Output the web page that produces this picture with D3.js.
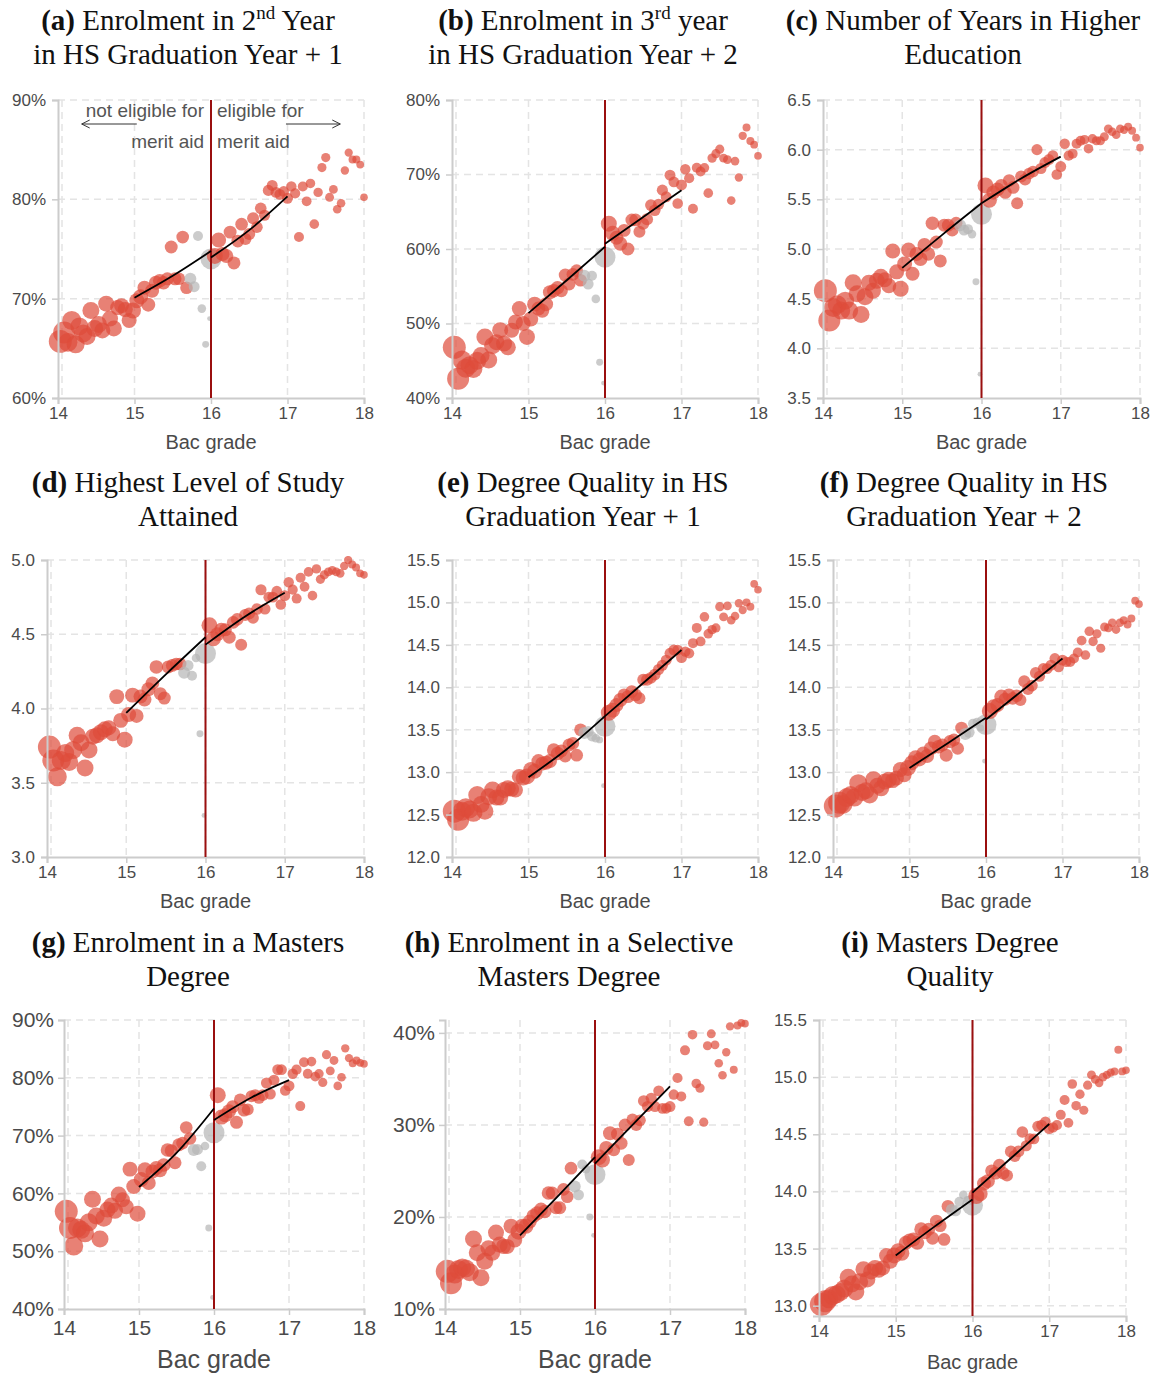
<!DOCTYPE html>
<html><head><meta charset="utf-8">
<script src="https://cdn.jsdelivr.net/npm/d3@7"></script>
<style>body{margin:0;background:#fff} svg{display:block}</style>
</head><body><svg id="c" width="1158" height="1374"></svg>
<script>
// ---------------- DATA ----------------
const grades = [14.03,14.08,14.13,14.18,14.23,14.28,14.33,14.38,14.43,14.48,14.53,14.58,14.63,14.68,14.73,14.78,14.83,14.88,14.93,14.98,15.03,15.08,15.13,15.18,15.23,15.28,15.33,15.38,15.43,15.48,15.53,15.58,15.63,15.68,
  15.73,15.78,15.83,15.88,15.93,15.98,16.00,
  16.05,16.10,16.15,16.20,16.25,16.30,16.35,16.40,16.45,16.50,16.55,16.60,16.65,16.70,16.75,16.80,16.85,16.90,16.95,17.00,17.05,17.10,17.15,17.20,17.25,17.30,17.35,17.40,17.45,17.50,17.55,17.60,17.65,17.70,17.75,17.80,17.85,17.90,17.95,18.00];
const counts = [1320,1210,900,900,810,810,810,720,720,720,720,640,640,640,640,560,560,560,560,640,560,560,490,490,490,490,460,460,420,420,420,400,400,400,
  360,300,250,185,120,55,1100,
  640,560,490,490,420,420,400,400,360,360,360,340,340,310,310,300,300,290,280,300,270,260,250,250,240,230,230,220,210,210,200,195,185,185,175,170,160,160,150,145];
const donutRange = [15.7, 16.0];

const enrol2ndYear = [65.7,66.6,65.6,67.8,65.4,67.2,66.5,66.2,68.8,67.0,67.4,66.8,69.5,68.0,67.0,69.1,69.3,68.9,67.8,68.8,69.8,70.2,71.1,69.4,70.8,71.6,71.8,71.6,72.0,75.2,72.0,72.0,76.2,71.1,
  72.0,71.2,76.3,69.0,65.4,68.0,74.0,
  74.3,75.9,74.5,74.3,76.7,73.6,75.8,77.5,76.0,76.5,78.1,77.2,79.1,78.4,80.9,81.4,80.7,80.5,80.8,80.1,81.3,80.6,76.2,81.3,79.8,81.6,77.5,80.7,83.2,84.2,80.2,81.0,79.0,79.6,82.9,84.7,84.0,84.0,83.5,80.2];
const enrol3rdYear = [46.8,42.6,45.1,44.0,44.4,43.9,45.0,45.7,48.2,45.1,47.0,47.5,49.1,47.3,46.8,49.1,50.2,52.0,50.0,48.2,50.6,52.6,52.0,51.7,52.6,54.2,54.4,54.8,54.4,56.5,55.3,56.6,57.1,55.8,
  56.4,55.3,56.4,53.3,44.8,42.0,58.9,
  63.4,62.1,61.5,60.7,62.5,60.0,63.9,63.9,62.3,63.4,64.0,65.9,65.2,66.0,67.9,67.0,69.9,69.0,66.1,68.6,70.7,69.5,65.4,70.9,70.4,70.9,67.5,72.2,72.8,73.4,72.2,72.0,66.5,71.8,69.6,75.2,76.3,74.5,74.0,72.5];
const yearsHigherEd = [4.58,4.28,4.41,4.44,4.38,4.48,4.38,4.66,4.55,4.34,4.52,4.66,4.58,4.68,4.72,4.69,4.63,4.98,4.77,4.60,4.85,4.99,4.75,4.95,4.90,5.04,4.95,5.26,5.07,4.88,5.24,5.24,5.19,5.26,
  5.24,5.19,5.20,5.15,4.67,3.74,5.35,
  5.64,5.49,5.57,5.60,5.64,5.57,5.69,5.62,5.46,5.73,5.70,5.76,5.78,6.00,5.81,5.87,5.90,5.94,5.75,5.83,6.06,5.94,5.96,6.06,6.09,6.10,6.01,6.11,6.09,6.09,6.13,6.21,6.18,6.15,6.21,6.20,6.23,6.19,6.12,6.02];
const highestLevel = [3.74,3.65,3.54,3.65,3.70,3.64,3.72,3.82,3.77,3.60,3.72,3.81,3.82,3.84,3.86,3.87,3.83,4.08,3.92,3.79,3.96,4.09,3.95,4.08,4.06,4.13,4.17,4.28,4.10,4.07,4.28,4.29,4.30,4.30,
  4.24,4.29,4.22,4.34,3.83,3.28,4.37,
  4.56,4.47,4.50,4.53,4.53,4.48,4.58,4.60,4.43,4.63,4.64,4.61,4.67,4.80,4.67,4.75,4.75,4.79,4.70,4.76,4.85,4.80,4.74,4.88,4.82,4.92,4.76,4.94,4.87,4.90,4.92,4.93,4.92,4.91,4.96,5.00,4.97,4.95,4.91,4.90];
const degreeQualityY1 = [12.54,12.44,12.54,12.58,12.56,12.52,12.73,12.62,12.54,12.71,12.79,12.70,12.70,12.79,12.81,12.80,12.79,12.95,12.93,12.95,13.03,13.01,13.13,13.10,13.11,13.13,13.26,13.22,13.25,13.19,13.32,13.34,13.20,13.50,
  13.46,13.48,13.42,13.40,13.38,12.84,13.54,
  13.70,13.73,13.79,13.85,13.91,13.89,13.95,13.91,13.87,14.09,14.09,14.11,14.15,14.21,14.26,14.32,14.40,14.44,14.44,14.35,14.42,14.40,14.52,14.70,14.54,14.83,14.63,14.68,14.70,14.95,14.83,14.96,14.79,14.84,14.99,14.91,15.00,14.95,15.22,15.15];
const degreeQualityY2 = [12.60,12.64,12.62,12.70,12.73,12.70,12.87,12.76,12.78,12.73,12.91,12.84,12.81,12.89,12.91,12.90,12.93,13.03,12.97,13.05,13.11,13.17,13.15,13.22,13.19,13.28,13.36,13.30,13.32,13.20,13.36,13.38,13.28,13.52,
  13.45,13.47,13.57,13.59,13.52,13.13,13.56,
  13.72,13.77,13.79,13.89,13.86,13.91,13.87,13.90,13.85,14.07,13.98,14.02,14.17,14.13,14.22,14.22,14.26,14.34,14.24,14.32,14.30,14.30,14.34,14.41,14.55,14.38,14.66,14.54,14.63,14.46,14.71,14.70,14.76,14.68,14.76,14.79,14.74,14.81,15.02,14.98];
const mastersEnrol = [56.9,54.0,50.9,54.0,53.7,53.1,55.0,59.0,56.1,52.1,55.7,57.2,57.9,57.0,59.8,58.9,57.7,64.2,61.2,56.5,62.4,64.1,61.8,63.8,64.4,64.0,64.9,67.5,67.4,65.3,68.4,68.7,71.4,69.5,
  67.5,67.6,64.7,68.2,54.0,42.0,70.5,
  77.0,73.2,73.5,74.2,75.0,72.3,76.2,74.4,74.5,76.8,77.0,76.5,77.0,79.1,77.2,79.6,81.4,81.4,77.8,78.6,80.7,81.4,75.1,82.7,80.7,82.8,80.2,80.7,79.2,84.0,81.2,83.0,78.6,80.1,85.1,83.4,82.5,83.0,82.6,82.4];
const selectiveMasters = [14.1,12.8,13.8,14.3,14.5,14.4,14.0,17.6,16.1,13.4,15.2,16.6,16.1,18.3,17.0,16.8,16.8,19.0,17.5,18.4,19.0,19.0,19.5,20.1,20.4,20.8,20.6,22.6,22.6,21.0,21.0,23.0,22.2,25.3,
  23.3,22.4,25.7,25.2,20.0,18.0,24.6,
  26.5,26.2,27.5,29.1,27.3,29.0,28.0,30.0,26.2,30.6,30.0,30.5,32.6,32.0,32.9,32.0,33.7,31.8,31.8,32.0,33.3,35.1,33.1,38.1,30.4,39.8,34.5,34.0,30.3,38.6,39.9,38.7,36.7,35.4,37.9,40.7,36.0,40.8,41.1,41.0];
const mastersQuality = [13.01,13.04,13.06,13.09,13.10,13.12,13.15,13.25,13.19,13.12,13.21,13.32,13.23,13.30,13.33,13.31,13.33,13.44,13.39,13.44,13.48,13.46,13.55,13.57,13.58,13.55,13.67,13.64,13.67,13.59,13.74,13.70,13.58,13.87,
  13.84,13.83,13.91,13.97,13.93,13.90,13.88,
  13.96,13.98,14.07,14.09,14.18,14.16,14.23,14.16,14.14,14.35,14.31,14.35,14.52,14.40,14.46,14.46,14.57,14.58,14.61,14.55,14.56,14.58,14.67,14.80,14.60,14.94,14.75,14.85,14.71,14.93,15.02,14.98,14.95,15.00,15.02,15.04,15.05,15.24,15.05,15.06];

// local fits: values at [15,15.5,16] (left) and [16,16.5,17] (right)
const fitGradesLeft = [15, 15.5, 16];
const fitGradesRight = [16, 16.5, 17];
const fitEnrol2ndYear = [[70.1,72.3,74.8],[74.15,76.9,80.3]];
const fitEnrol3rdYear = [[51.4,55.8,60.3],[60.7,64.3,67.9]];
const fitYearsHigherEd = [[4.81,5.14,5.46],[5.46,5.71,5.93]];
const fitHighestLevel = [[3.97,4.23,4.48],[4.43,4.62,4.78]];
const fitDegreeQualityY1 = [[12.94,13.27,13.66],[13.66,14.05,14.44]];
const fitDegreeQualityY2 = [[13.05,13.34,13.64],[13.62,13.98,14.34]];
const fitMastersEnrol = [[61.1,67.0,74.7],[72.7,76.6,79.6]];
const fitSelectiveMasters = [[18.0,22.2,26.5],[25.8,30.0,34.2]];
const fitMastersQuality = [[13.44,13.69,13.93],[13.99,14.29,14.59]];

const xTicks = [14,15,16,17,18];
const yTicksA = [60,70,80,90];
const yTicksB = [40,50,60,70,80];
const yTicksC = [3.5,4.0,4.5,5.0,5.5,6.0,6.5];
const yTicksD = [3.0,3.5,4.0,4.5,5.0];
const yTicksE = [12.0,12.5,13.0,13.5,14.0,14.5,15.0,15.5];
const yTicksG = [40,50,60,70,80,90];
const yTicksH = [10,20,30,40];
const yTicksI = [13.0,13.5,14.0,14.5,15.0,15.5];

const titleTags = ["(a)","(b)","(c)","(d)","(e)","(f)","(g)","(h)","(i)"];
const titleLine1 = ["Enrolment in 2^nd Year","Enrolment in 3^rd year","Number of Years in Higher","Highest Level of Study","Degree Quality in HS","Degree Quality in HS","Enrolment in a Masters","Enrolment in a Selective","Masters Degree"];
const titleLine2 = ["in HS Graduation Year + 1","in HS Graduation Year + 2","Education","Attained","Graduation Year + 1","Graduation Year + 2","Degree","Masters Degree","Quality"];
const xLabel = "Bac grade";
const annotLeft = ["not eligible for","merit aid"];
const annotRight = ["eligible for","merit aid"];

// ---------------- LAYOUT ----------------
const pct = d => d + "%";
const dec = d3.format(".1f");
const panels = [
  {values:enrol2ndYear, fit:fitEnrol2ndYear, yDomain:[60,90], yTicks:yTicksA, fmt:pct, box:[58,364,100,398], big:false, tcx:188, tby:30},
  {values:enrol3rdYear, fit:fitEnrol3rdYear, yDomain:[40,80], yTicks:yTicksB, fmt:pct, box:[452,758,100,398], big:false, tcx:583, tby:30},
  {values:yearsHigherEd, fit:fitYearsHigherEd, yDomain:[3.5,6.5], yTicks:yTicksC, fmt:dec, box:[823,1140,100,398], big:false, tcx:963, tby:30},
  {values:highestLevel, fit:fitHighestLevel, yDomain:[3,5], yTicks:yTicksD, fmt:dec, box:[47,364,560,857], big:false, tcx:188, tby:492},
  {values:degreeQualityY1, fit:fitDegreeQualityY1, yDomain:[12,15.5], yTicks:yTicksE, fmt:dec, box:[452,758,560,857], big:false, tcx:583, tby:492},
  {values:degreeQualityY2, fit:fitDegreeQualityY2, yDomain:[12,15.5], yTicks:yTicksE, fmt:dec, box:[833,1139,560,857], big:false, tcx:964, tby:492},
  {values:mastersEnrol, fit:fitMastersEnrol, yDomain:[40,90], yTicks:yTicksG, fmt:pct, box:[64,364,1020,1309], big:true, tcx:188, tby:952},
  {values:selectiveMasters, fit:fitSelectiveMasters, yDomain:[10,41.4], yTicks:yTicksH, fmt:pct, box:[445,745,1020,1309], big:true, tcx:569, tby:952},
  {values:mastersQuality, fit:fitMastersQuality, yDomain:[12.91,15.5], yTicks:yTicksI, fmt:dec, box:[819,1126,1020,1316], big:false, tcx:950, tby:952}
];

const svg = d3.select("#c");
const SANS = "'Liberation Sans', Arial, Helvetica, sans-serif";
const SERIF = "'Liberation Serif', 'Times New Roman', serif";
const rScale = d3.scaleSqrt().domain([0,1000]).range([0,10]);
const RED = "#de4c3b", GREY = "#b5b5b5";

function addTitle(i, p){
  const t = svg.append("text").attr("x", p.tcx).attr("y", p.tby)
    .attr("text-anchor","middle").attr("font-family",SERIF).attr("font-size",29).attr("fill","#111");
  t.append("tspan").attr("font-weight","bold").text(titleTags[i]);
  const parts = titleLine1[i].split(/\^(\w+)/);
  t.append("tspan").text(" " + parts[0]);
  if (parts.length > 1){
    t.append("tspan").attr("font-size",19).attr("dy",-11).text(parts[1]);
    t.append("tspan").attr("dy",11).text(parts[2]);
  }
  svg.append("text").attr("x", p.tcx).attr("y", p.tby + 34)
    .attr("text-anchor","middle").attr("font-family",SERIF).attr("font-size",29).attr("fill","#111")
    .text(titleLine2[i]);
}

panels.forEach((p,i)=>{
  const [x0,x1,y0,y1] = p.box;
  const x = d3.scaleLinear().domain([14,18]).range([x0,x1]);
  const y = d3.scaleLinear().domain(p.yDomain).range([y1,y0]);
  const tickFs = p.big ? 21 : 17, labFs = p.big ? 25 : 20;
  const g = svg.append("g");

  // grid
  g.append("g").selectAll("line").data(p.yTicks.filter(t => Math.abs(t - p.yDomain[0]) > 1e-6)).join("line")
    .attr("x1",x0).attr("x2",x1).attr("y1",d=>y(d)).attr("y2",d=>y(d))
    .attr("stroke","#e4e4e4").attr("stroke-width",1.5).attr("stroke-dasharray","7,5");
  g.append("g").selectAll("line").data(xTicks).join("line")
    .attr("x1",d=>x(d)+(d===14?4:0)).attr("x2",d=>x(d)+(d===14?4:0)).attr("y1",y0).attr("y2",y1)
    .attr("stroke","#e4e4e4").attr("stroke-width",1.5).attr("stroke-dasharray","7,5");

  // clip (bottom and top only; dots may spill past the left axis)
  const cid = "clip" + i;
  svg.append("clipPath").attr("id",cid).append("rect")
    .attr("x",x0 - 20).attr("y",y0 - 4).attr("width",x1 - x0 + 30).attr("height",y1 - y0 + 4);

  // dots
  const pts = grades.map((gr,j)=>({gr, v:p.values[j], n:counts[j], donut: gr >= donutRange[0] && gr <= donutRange[1]}));
  g.append("g").attr("clip-path",`url(#${cid})`).selectAll("circle").data(pts).join("circle")
    .attr("cx",d=>x(d.gr)).attr("cy",d=>y(d.v)).attr("r",d=>rScale(d.n))
    .attr("fill",d=>d.donut ? GREY : RED).attr("fill-opacity",0.7);

  // axes
  const ya = g.append("g").attr("transform",`translate(${x0},0)`)
    .call(d3.axisLeft(y).tickValues(p.yTicks).tickFormat(p.fmt).tickSizeOuter(0).tickSize(6).tickPadding(p.big?4:6));
  const xa = g.append("g").attr("transform",`translate(0,${y1})`)
    .call(d3.axisBottom(x).tickValues(xTicks).tickFormat(d3.format("d")).tickSizeOuter(0).tickSize(6).tickPadding(p.big?5:3));
  [ya,xa].forEach(a=>{
    a.select(".domain").attr("stroke","#cccccc").attr("stroke-width",2);
    a.selectAll(".tick line").attr("stroke","#cccccc").attr("stroke-width",1.5);
    a.selectAll(".tick text").attr("fill","#4a4a4a").attr("font-size",tickFs).attr("font-family",SANS);
  });
  g.append("text").attr("x",x(16)).attr("y",y1 + (p.big ? 59 : (i===8 ? 53 : 51)))
    .attr("text-anchor","middle").attr("font-family",SANS).attr("font-size",labFs).attr("fill","#4a4a4a").text(xLabel);

  // threshold
  g.append("line").attr("x1",x(16)).attr("x2",x(16)).attr("y1",y0).attr("y2",y1)
    .attr("stroke","#9a0f0f").attr("stroke-width",2);

  // fit lines
  const line = d3.line().x(d=>x(d[0])).y(d=>y(d[1])).curve(d3.curveNatural);
  g.append("path").attr("d", line(fitGradesLeft.map((gr,k)=>[gr, p.fit[0][k]])))
    .attr("fill","none").attr("stroke","#000").attr("stroke-width",1.8);
  g.append("path").attr("d", line(fitGradesRight.map((gr,k)=>[gr, p.fit[1][k]])))
    .attr("fill","none").attr("stroke","#000").attr("stroke-width",1.8);

  // annotation (panel a)
  if (i === 0){
    const ag = g.append("g").attr("font-family",SANS).attr("font-size",19).attr("fill","#555");
    annotLeft.forEach((s,k)=> ag.append("text").attr("x",x(16)-7).attr("y",y0+17+k*31).attr("text-anchor","end").text(s));
    annotRight.forEach((s,k)=> ag.append("text").attr("x",x(16)+6).attr("y",y0+17+k*31).attr("text-anchor","start").text(s));
    const ay = y0 + 24;
    const arr = (xa0, xa1) => {
      const dir = Math.sign(xa1 - xa0);
      ag.append("path").attr("d",`M${xa0},${ay}L${xa1},${ay}M${xa1 - dir*8},${ay-4}L${xa1},${ay}L${xa1 - dir*8},${ay+4}`)
        .attr("fill","none").attr("stroke","#333").attr("stroke-width",1);
    };
    arr(x(15.03), x(14.31));
    arr(x(16.98), x(17.69));
  }

  addTitle(i, p);
});
</script>
</body></html>
